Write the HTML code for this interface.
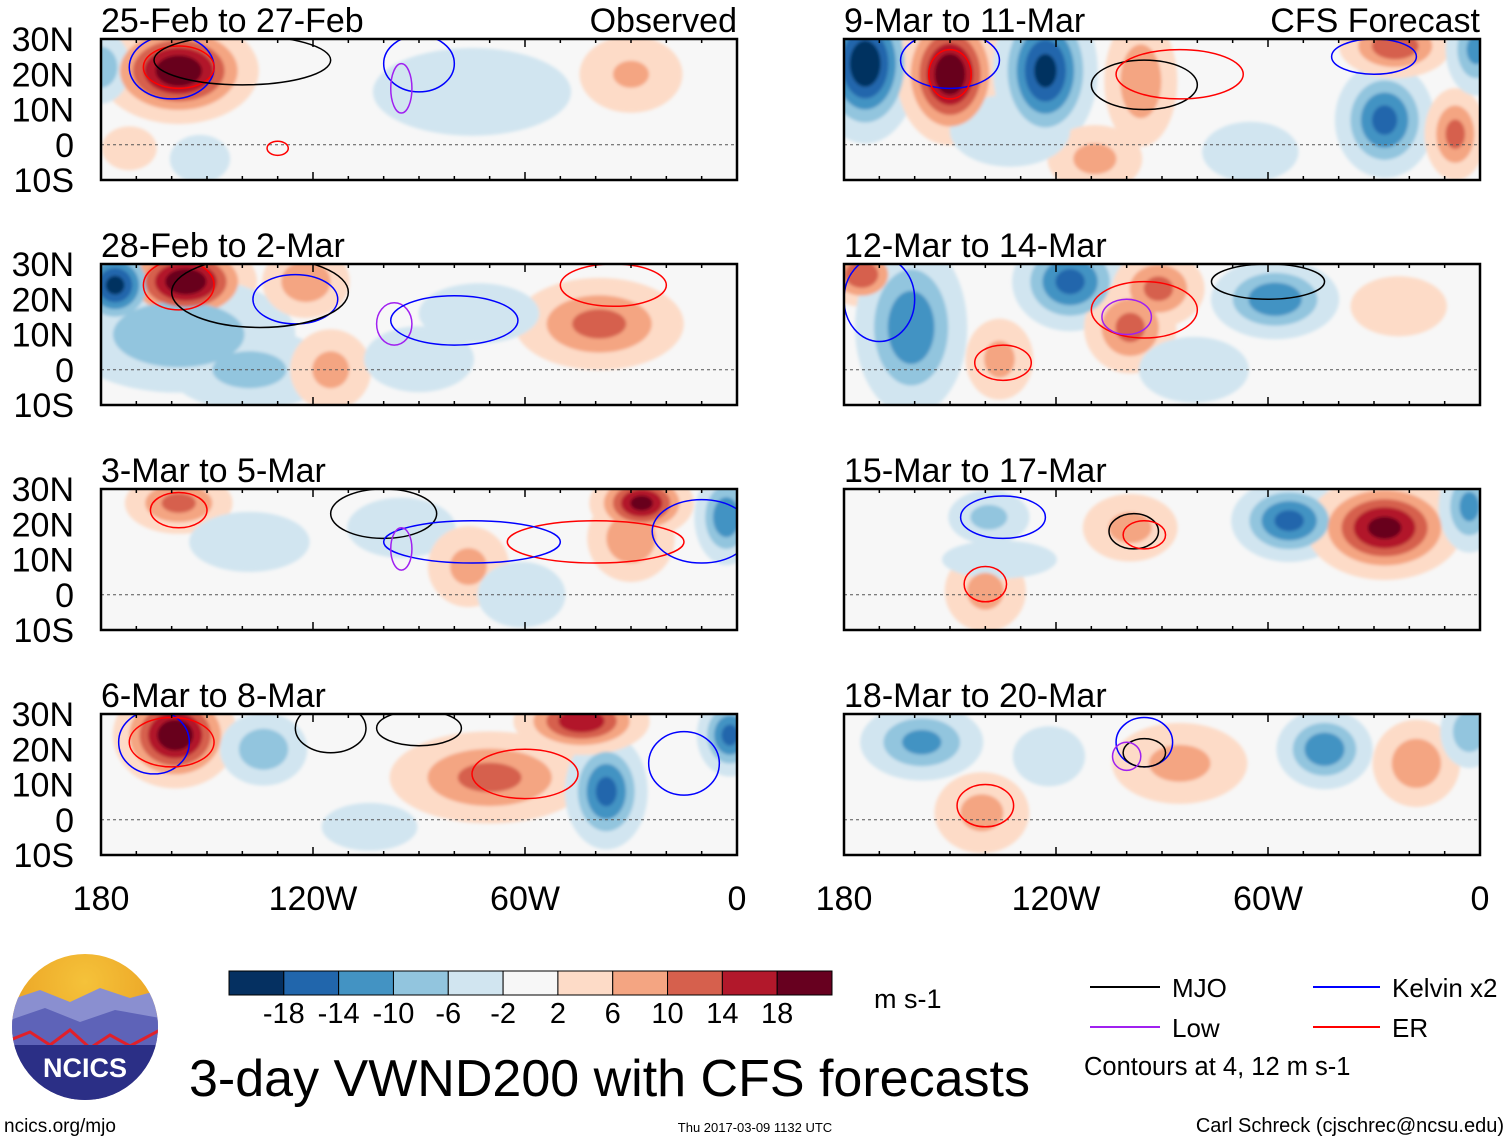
<!DOCTYPE html>
<html><head><meta charset="utf-8">
<style>
html,body{margin:0;padding:0;background:#fff;}
svg{display:block;font-family:"Liberation Sans",Helvetica,sans-serif;}
</style></head>
<body>
<svg id="chart" width="1510" height="1142" viewBox="0 0 1510 1142" xmlns="http://www.w3.org/2000/svg">
<defs>
<filter id="soft" x="-10%" y="-10%" width="120%" height="120%"><feGaussianBlur stdDeviation="1.5"/></filter>
<radialGradient id="sky" cx="50%" cy="20%" r="70%"><stop offset="0" stop-color="#f5c23a"/><stop offset="1" stop-color="#e89a1e"/></radialGradient>
</defs>
<g id="panels"></g>
<g id="axes"></g>
<g id="colorbar"></g>
<text x="874" y="1008" font-size="27">m s-1</text>
<g>
<line x1="1090" y1="987" x2="1160" y2="987" stroke="#000" stroke-width="2"/><text x="1172" y="997" font-size="26">MJO</text>
<line x1="1313" y1="987" x2="1380" y2="987" stroke="#0000ff" stroke-width="2"/><text x="1392" y="997" font-size="26">Kelvin x2</text>
<line x1="1090" y1="1027" x2="1160" y2="1027" stroke="#a020f0" stroke-width="2"/><text x="1172" y="1037" font-size="26">Low</text>
<line x1="1313" y1="1027" x2="1380" y2="1027" stroke="#ff0000" stroke-width="2"/><text x="1392" y="1037" font-size="26">ER</text>
<text x="1084" y="1075" font-size="25.5">Contours at 4, 12 m s-1</text>
</g>
<g>
<clipPath id="logoclip"><circle cx="85" cy="1027" r="73"/></clipPath>
<g clip-path="url(#logoclip)">
<rect x="10" y="952" width="150" height="150" fill="url(#sky)"/>
<path d="M10 1000 L40 990 L70 1002 L100 988 L130 998 L160 990 L160 1102 L10 1102Z" fill="#8a8fd0"/>
<path d="M10 1020 L45 1008 L80 1022 L115 1010 L160 1018 L160 1102 L10 1102Z" fill="#5e63b8"/>
<path d="M10 1040 L30 1032 L50 1045 L70 1030 L90 1048 L110 1035 L130 1046 L160 1030" fill="none" stroke="#e0202a" stroke-width="3"/>
<path d="M10 1045 L160 1045 L160 1102 L10 1102Z" fill="#2b2f86"/>
</g>
<text x="85" y="1077" font-size="27" font-weight="bold" fill="#fff" text-anchor="middle">NCICS</text>
</g>
<text x="189" y="1096" font-size="52">3-day VWND200 with CFS forecasts</text>
<text x="4" y="1132" font-size="19">ncics.org/mjo</text>
<text x="755" y="1132" font-size="13" text-anchor="middle">Thu 2017-03-09 1132 UTC</text>
<text x="1504" y="1132" font-size="20" text-anchor="end">Carl Schreck (cjschrec@ncsu.edu)</text>
</svg>
<script>
// ---- data ----
const panelTitles = ["25-Feb to 27-Feb","28-Feb to 2-Mar","3-Mar to 5-Mar","6-Mar to 8-Mar","9-Mar to 11-Mar","12-Mar to 14-Mar","15-Mar to 17-Mar","18-Mar to 20-Mar"];
const lonTicks = [-180,-120,-60,0];
const lonTickLabels = ["180","120W","60W","0"];
const latTicks = [30,20,10,0,-10];
const latTickLabels = ["30N","20N","10N","0","10S"];
const cbLevels = [-18,-14,-10,-6,-2,2,6,10,14,18];
const cbColors = ["#053061","#2166ac","#4393c3","#92c5de","#d1e5f0","#f7f7f7","#fddbc7","#f4a582","#d6604d","#b2182b","#67001f"];
// blobs: [panel, lon, lat, sigmaLon, sigmaLat, value]
const blobPanel = [0,0,0,0,0,0, 1,1,1,1,1,1,1,1,1, 2,2,2,2,2,2,2,2, 3,3,3,3,3,3,3, 4,4,4,4,4,4,4,4,4,4,4, 5,5,5,5,5,5,5,5,5, 6,6,6,6,6,6,6, 7,7,7,7,7,7,7];
const blobLon = [-158,-180,-75,-30,-152,-172, -156,-176,-158,-138,-115,-122,-39,-73,-90, -158,-27,-30,-3,-138,-95,-76,-61, -159,-134,-70,-37,-44,-2,-104, -174,-150,-123,-96,-109,-133,-27,-7,-24,-1,-65, -175,-161,-116,-91,-99,-58,-136,-23,-81, -54,-27,-3,-99,-140,-139,-136, -158,-141,-44,-18,-85,-122,-3];
const blobLat = [21,22,15,20,-4,-1, 25,24,10,0,0,25,13,16,3, 26,26,16,22,15,19,8,0, 24,20,12,8,28,24,-2, 23,20,21,18,-4,4,7,3,28,27,-2, 27,12,25,23,12,20,3,18,0, 21,19,25,19,1,22,10, 22,2,20,16,16,18,25];
const blobSx = [9,4,18,8,5,5, 8,5,16,12,6,6,11,10,10, 7,6,6,4,10,9,6,8, 7,6,13,5,8,4,10, 6,6,6,5,7,10,6,4,7,4,8, 5,7,7,6,6,8,5,8,10, 7,9,4,7,6,6,12, 8,7,6,6,10,6,4];
const blobSy = [6,5,8,6,4,4, 5,5,8,6,6,5,6,5,6, 4,4,6,6,5,5,6,6, 6,5,6,7,4,5,5, 9,8,9,9,5,6,7,6,4,6,5, 4,11,6,5,6,5,6,5,6, 5,6,6,5,6,4,4, 5,6,5,6,6,5,5];
const blobVal = [22,-10,-5,7,-6,5, 22,-20,-10,-8,8,10,12,-6,-5, 12,20,10,-14,-6,-6,8,-5, 22,-10,12,-16,18,-16,-4, -22,22,-20,10,8,-6,-16,12,14,-12,-6, 14,-14,-16,12,12,-14,8,6,-5, -16,20,-12,8,8,-8,-4, -12,8,-14,10,8,-6,-10];
// contours
const ctPanel = [0,0,0,0,0,0, 1,1,1,1,1,1, 2,2,2,2,2,2, 3,3,3,3,3,3, 4,4,4,4,4, 5,5,5,5,5, 6,6,6,6, 7,7,7,7];
const ctLon = [-160,-158,-140,-90,-95,-130, -158,-125,-135,-97,-80,-35, -158,-100,-40,-75,-10,-95, -165,-160,-60,-90,-15,-115, -150,-150,-95,-85,-30, -170,-95,-60,-135,-100, -135,-98,-140,-95, -95,-140,-95,-100];
const ctLat = [22,22,24,23,16,-1, 24,20,22,13,14,24, 24,23,15,15,18,13, 22,22,13,26,16,26, 24,20,17,20,25, 20,17,25,2,15, 22,18,3,17, 22,4,19,18];
const ctRx = [12,10,25,10,3,3, 10,12,25,5,18,15, 8,15,25,25,14,3, 10,12,15,12,10,10, 14,6,15,18,12, 10,15,16,8,7, 12,7,6,6, 8,8,6,4];
const ctRy = [9,6,7,8,7,2, 7,7,10,6,7,6, 5,7,6,6,9,6, 9,7,7,5,9,7, 8,7,7,7,5, 12,8,5,5,5, 6,5,5,4, 7,6,4,4];
const ctType = ["blue","red","black","blue","low","red", "red","blue","black","low","blue","red", "red","black","red","blue","blue","low", "blue","red","red","black","blue","black", "blue","red","black","red","blue", "blue","red","black","red","low", "blue","black","red","red", "blue","red","black","low"];
const ctColor = {black:"#000",blue:"#0000ff",red:"#ff0000",low:"#a020f0"};

const NS = "http://www.w3.org/2000/svg";
const colX = [101, 844], rowY = [39, 264, 489, 714], PW = 636, PH = 141;
const SPREAD = 1.15;
function panelOrigin(p){ return [colX[Math.floor(p/4)], rowY[p%4]]; }
function xScale(p, lon){ return panelOrigin(p)[0] + (lon+180)/180*PW; }
function yScale(p, lat){ return panelOrigin(p)[1] + (30-lat)/40*PH; }
function mk(tag, attrs, parent){ const e=document.createElementNS(NS,tag); for(const k in attrs) e.setAttribute(k,attrs[k]); parent.appendChild(e); return e; }
function colorFor(t, sign){ const i = cbLevels.indexOf(sign*t); return sign>0 ? cbColors[i+1] : cbColors[i]; }

const panels = document.getElementById('panels');
const axes = document.getElementById('axes');
for(let p=0;p<8;p++){
  const [x0,y0] = panelOrigin(p);
  const g = mk('g',{},panels);
  
  
  const cp = mk('clipPath',{id:'clip'+p},g);
  mk('rect',{x:x0,y:y0,width:PW,height:PH},cp);
  const inner = mk('g',{'clip-path':'url(#clip'+p+')'},g);
  mk('rect',{x:x0,y:y0,width:PW,height:PH,fill:'#f7f7f7'},inner);
  const fills = mk('g',{filter:'url(#soft)'},inner);
  const thresholds = [2,6,10,14,18];
  for(const t of thresholds){
    for(let b=0;b<blobVal.length;b++){
      if(blobPanel[b]!==p) continue;
      const v = blobVal[b], a = Math.abs(v);
      if(a<=t) continue;
      const k = Math.sqrt(2*Math.log(a/t))*SPREAD;
      const e = mk('ellipse',{cx:xScale(p,blobLon[b]),cy:yScale(p,blobLat[b]),rx:blobSx[b]*k*PW/180,ry:blobSy[b]*k*PH/40,fill:colorFor(t,Math.sign(v))},fills);
      
      
    }
  }
  const eq = mk('line',{x1:x0,x2:x0+PW,y1:yScale(p,0),y2:yScale(p,0),stroke:'#555','stroke-dasharray':'3,3','stroke-width':1},inner);
  
  
  for(let c=0;c<ctType.length;c++){
    if(ctPanel[c]!==p) continue;
    const e = mk('ellipse',{cx:xScale(p,ctLon[c]),cy:yScale(p,ctLat[c]),rx:ctRx[c]*PW/180,ry:ctRy[c]*PH/40,fill:'none',stroke:ctColor[ctType[c]],'stroke-width':1.5},inner);
    
    
  }
  const fr = mk('rect',{x:x0,y:y0,width:PW,height:PH,fill:'none',stroke:'#000','stroke-width':2.5},g);
  
  
  for(let lon=-180;lon<=0;lon+=10){
    const len = lon%60===0?8:4;
    mk('line',{x1:xScale(p,lon),x2:xScale(p,lon),y1:y0,y2:y0+len,stroke:'#000','stroke-width':1.5},g);
    mk('line',{x1:xScale(p,lon),x2:xScale(p,lon),y1:y0+PH,y2:y0+PH-len,stroke:'#000','stroke-width':1.5},g);
  }
  const tt = mk('text',{x:x0,y:y0-7,'font-size':34},g);
  tt.textContent = panelTitles[p];
  
  
  if(p===0||p===4){
    const lab = mk('text',{x:x0+PW,y:y0-7,'font-size':34,'text-anchor':'end'},g);
    lab.textContent = p===0?'Observed':'CFS Forecast';
    
    
  }
  if(p<4){
    latTicks.forEach((lat,i)=>{
      const t = mk('text',{x:74,y:yScale(p,lat)+12,'font-size':34,'text-anchor':'end'},g);
      t.textContent = latTickLabels[i];
      
      
    });
  }
  if(p%4===3){
    lonTicks.forEach((lon,i)=>{
      const t = mk('text',{x:xScale(p,lon),y:910,'font-size':34,'text-anchor':'middle'},axes);
      t.textContent = lonTickLabels[i];
      
      
    });
  }
}
const cb = document.getElementById('colorbar');
const cbx0 = 229, cbw = 603/11;
cbColors.forEach((c,i)=>{
  const r = mk('rect',{x:cbx0+i*cbw,y:971,width:cbw,height:24,fill:c,stroke:'#000','stroke-width':1},cb);
  
  
});
cbLevels.forEach((l,i)=>{
  const t = mk('text',{x:cbx0+(i+1)*cbw,y:1023,'font-size':29,'text-anchor':'middle'},cb);
  t.textContent = String(l);
  
  
});
</script>
</body></html>
